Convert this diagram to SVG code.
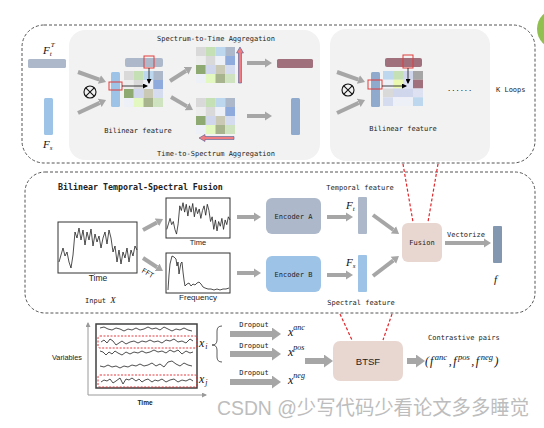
<svg xmlns="http://www.w3.org/2000/svg" xmlns:xlink="http://www.w3.org/1999/xlink" width="544" height="428" viewBox="0 0 544 428">
<style>
.dash{fill:none;stroke:#555;stroke-width:1;stroke-dasharray:3 2}
.panel{fill:#f2f2f2}
.mono{font-family:"DejaVu Sans Mono","Liberation Mono",monospace;font-size:7px;fill:#222}
.sans{font-family:"Liberation Sans",Arial,sans-serif;fill:#222}
.math{font-family:"Liberation Serif","Times New Roman",serif;font-style:italic;fill:#111}
.ga{stroke:#a6a6a6;stroke-width:4;fill:none;marker-end:url(#ga)}
.gb{stroke:#a6a6a6;stroke-width:6;fill:none;marker-end:url(#gb)}
.red{fill:none;stroke:#e03c3c;stroke-width:1}
.rdash{stroke:#e0262b;stroke-width:1.2;stroke-dasharray:3 2;fill:none}
.ts{fill:none;stroke:#222;stroke-width:0.8}
.box{fill:#fff;stroke:#333;stroke-width:1}
.bk{stroke:#111;stroke-width:0.8;fill:none;marker-end:url(#bk)}
.rarrow{fill:#f07c82;stroke:#4a5f9a;stroke-width:0.6}
</style>
<defs>
<marker id="ga" markerUnits="userSpaceOnUse" markerWidth="8" markerHeight="10" refX="0" refY="5" orient="auto"><path d="M0,0.5 L7,5 L0,9.5 z" fill="#a6a6a6"/></marker>
<marker id="gb" markerUnits="userSpaceOnUse" markerWidth="10" markerHeight="13" refX="0" refY="6.5" orient="auto"><path d="M0,0 L9,6.5 L0,13 z" fill="#a6a6a6"/></marker>
<marker id="bk" markerUnits="userSpaceOnUse" markerWidth="5" markerHeight="5" refX="4" refY="2.5" orient="auto"><path d="M0,0 L5,2.5 L0,5 z" fill="#000"/></marker>
<marker id="ax" markerUnits="userSpaceOnUse" markerWidth="5" markerHeight="5" refX="4" refY="2.5" orient="auto"><path d="M0,0 L5,2.5 L0,5 z" fill="#9a9a9a"/></marker>
<g id="m1">
<rect x="0" y="0" width="9.75" height="9" fill="#d9d9d9"/><rect x="9.75" y="0" width="9.75" height="9" fill="#c5e0b4"/><rect x="19.5" y="0" width="9.75" height="9" fill="#bdd7ee"/><rect x="29.25" y="0" width="9.75" height="9" fill="#adb9ca"/>
<rect x="0" y="9" width="9.75" height="9" fill="#ededed"/><rect x="9.75" y="9" width="9.75" height="9" fill="#d9d9d9"/><rect x="19.5" y="9" width="9.75" height="9" fill="#eef0f8"/><rect x="29.25" y="9" width="9.75" height="9" fill="#8faadc"/>
<rect x="0" y="18" width="9.75" height="9" fill="#8eaa72"/><rect x="9.75" y="18" width="9.75" height="9" fill="#d0d6ec"/><rect x="19.5" y="18" width="9.75" height="9" fill="#c9c9b5"/><rect x="29.25" y="18" width="9.75" height="9" fill="#d6dcf0"/>
<rect x="0" y="27" width="9.75" height="9" fill="#eef0f8"/><rect x="9.75" y="27" width="9.75" height="9" fill="#e2f8c0"/><rect x="19.5" y="27" width="9.75" height="9" fill="#a8b48e"/><rect x="29.25" y="27" width="9.75" height="9" fill="#cfe3c0"/>
</g>
<polyline id="ts" class="ts" vector-effect="non-scaling-stroke" points="59,262 61,255 63,248 65,256 67,252 69,262 71,268 73,255 75,232 77,238 79,228 81,240 83,230 85,245 87,232 89,240 91,229 93,246 95,234 97,242 99,236 101,248 103,238 105,232 107,244 109,230 111,238 113,252 115,246 117,262 119,250 121,264 123,252 125,258 127,248 129,262 131,250 133,256 135,246 137,250"/>
</defs>

<rect width="544" height="428" fill="#fff"/>
<circle cx="557" cy="29" r="20" fill="#92c050"/>

<!-- containers -->
<g id="loop-box">
<rect class="dash" x="22" y="25" width="513" height="138" rx="22"/>
<rect class="panel" x="69" y="30" width="251" height="130" rx="16"/>
<rect class="panel" x="330" y="29" width="160" height="132" rx="16"/>
</g>
<g id="fusion-box">
<rect class="dash" x="25" y="172" width="510" height="141" rx="20"/>
<text class="mono" x="58" y="190" style="font-size:8.3px;font-weight:bold">Bilinear Temporal-Spectral Fusion</text>
</g>

<!-- top section nodes -->
<g id="Ft-T">
<rect x="28" y="59" width="38" height="9" rx="1.5" fill="#adb9ca"/>
<text class="math" x="43" y="54" font-size="11">F<tspan font-size="7" dy="2">t</tspan><tspan font-size="7" dx="-1" dy="-9">T</tspan></text>
</g>
<g id="Fs-top">
<rect x="44" y="98" width="9" height="37" rx="1.5" fill="#9dc3e6"/>
<text class="math" x="43" y="148" font-size="11">F<tspan font-size="7" dy="2">s</tspan></text>
</g>
<g id="otimes1">
<circle cx="90" cy="92" r="6" fill="none" stroke="#111" stroke-width="1.1"/>
<path d="M85.8,87.8 L94.2,96.2 M94.2,87.8 L85.8,96.2" stroke="#111" stroke-width="1.1"/>
</g>
<g id="bilinear1">
<rect x="111" y="72" width="9" height="35" rx="1.5" fill="#9dc3e6"/>
<rect x="125" y="58" width="38" height="9" rx="2" fill="#adb9ca"/>
<use xlink:href="#m1" x="124" y="71"/>
<rect class="red" x="144" y="56" width="10" height="12"/>
<rect class="red" x="109" y="82" width="13" height="8"/>
<path class="bk" d="M122,86 L147,86"/>
<path class="bk" d="M149,68 L149,83"/>
<text class="mono" x="138" y="133" text-anchor="middle">Bilinear feature</text>
</g>
<g id="s2t">
<text class="mono" x="216" y="41" text-anchor="middle">Spectrum-to-Time Aggregation</text>
<use xlink:href="#m1" x="196" y="47"/>
<polygon class="rarrow" points="238.5,83 241.5,83 241.5,53 243.5,53 240,47 236.5,53 238.5,53"/>
<rect x="277" y="59" width="36" height="9" rx="1.5" fill="#a0707c"/>
</g>
<g id="t2s">
<use xlink:href="#m1" x="196" y="98"/>
<polygon class="rarrow" points="234,136.5 234,139.5 205,139.5 205,141.5 199,138 205,134.5 205,136.5"/>
<rect x="291" y="98" width="9" height="37" rx="1.5" fill="#8faacc"/>
<text class="mono" x="216" y="156" text-anchor="middle">Time-to-Spectrum Aggregation</text>
</g>
<g id="otimes2">
<circle cx="348" cy="90" r="6" fill="none" stroke="#111" stroke-width="1.1"/>
<path d="M343.8,85.8 L352.2,94.2 M352.2,85.8 L343.8,94.2" stroke="#111" stroke-width="1.1"/>
</g>
<g id="bilinear2">
<rect x="371" y="72" width="9" height="35" rx="1.5" fill="#8faacc"/>
<rect x="385" y="58" width="37" height="9" rx="2" fill="#a0707c"/>
<g>
<rect x="383" y="71" width="10" height="8.75" fill="#bdd7ee"/><rect x="393" y="71" width="10" height="8.75" fill="#c5e0b4"/><rect x="403" y="71" width="10" height="8.75" fill="#d0d6ec"/><rect x="413" y="71" width="10" height="8.75" fill="#a6a6a6"/>
<rect x="383" y="79.75" width="10" height="8.75" fill="#eef0f8"/><rect x="393" y="79.75" width="10" height="8.75" fill="#eaf8b0"/><rect x="403" y="79.75" width="10" height="8.75" fill="#dde1f1"/><rect x="413" y="79.75" width="10" height="8.75" fill="#a0707c"/>
<rect x="383" y="88.5" width="10" height="8.75" fill="#d9d9d9"/><rect x="393" y="88.5" width="10" height="8.75" fill="#d0d6ec"/><rect x="403" y="88.5" width="10" height="8.75" fill="#d0d6ec"/><rect x="413" y="88.5" width="10" height="8.75" fill="#dde1f1"/>
<rect x="383" y="97.25" width="10" height="8.75" fill="#d6dcf0"/><rect x="393" y="97.25" width="10" height="8.75" fill="#eef0f8"/><rect x="403" y="97.25" width="10" height="8.75" fill="#eef0f8"/><rect x="413" y="97.25" width="10" height="8.75" fill="#bdd7ee"/>
</g>
<rect class="red" x="403" y="55" width="10" height="13"/>
<rect class="red" x="368" y="80" width="14" height="9"/>
<path class="bk" d="M382,86 L406,86"/>
<path class="bk" d="M408,68 L408,83"/>
<text class="mono" x="403" y="131" text-anchor="middle">Bilinear feature</text>
</g>
<g id="kloops">
<text class="mono" x="447" y="91">......</text>
<text class="mono" x="496" y="92">K Loops</text>
</g>

<!-- middle section nodes -->
<g id="input">
<rect class="box" x="58" y="222" width="79" height="51"/>
<use xlink:href="#ts"/>
<text class="sans" x="98" y="281" font-size="8.5" text-anchor="middle">Time</text>
<text class="mono" x="141" y="272" font-size="5.5" transform="rotate(30 141 272)">FFT</text>
<text class="mono" x="85" y="303">Input <tspan class="math" font-size="9">X</tspan></text>
</g>
<g id="time-view">
<rect class="box" x="166" y="198" width="64" height="40"/>
<use xlink:href="#ts" transform="translate(166,198) scale(0.81,0.784) translate(-58,-222)"/>
<text class="sans" x="198" y="245" font-size="7.5" text-anchor="middle">Time</text>
</g>
<g id="freq-view">
<rect class="box" x="166" y="253" width="64" height="40"/>
<polyline class="ts" points="168,290 169,275 170,264 172,256 174,257 176,259 177,266 178,262 179,274 180,268 181,263 182,262 183,272 184,280 185,286 187,284 189,283 191,286 193,284 195,285 197,283 199,282 201,284 203,287 205,288 208,289 211,289 214,290 217,289 220,290 223,289 226,289 229,288"/>
<text class="sans" x="198" y="300" font-size="8" text-anchor="middle">Frequency</text>
</g>
<g id="encoderA">
<rect x="266" y="198" width="55" height="36" rx="6" fill="#adb9ca"/>
<text class="mono" x="293.5" y="219" text-anchor="middle">Encoder A</text>
</g>
<g id="encoderB">
<rect x="266" y="256" width="55" height="36" rx="6" fill="#9dc3e6"/>
<text class="mono" x="293.5" y="277" text-anchor="middle">Encoder B</text>
</g>
<g id="Ft">
<text class="mono" x="360" y="190" text-anchor="middle">Temporal feature</text>
<rect x="358" y="197" width="9" height="37" rx="1" fill="#adb9ca"/>
<text class="math" x="346" y="209" font-size="11">F<tspan font-size="7" dy="2">t</tspan></text>
</g>
<g id="Fs">
<rect x="358" y="255" width="9" height="37" rx="1" fill="#9dc3e6"/>
<text class="math" x="346" y="266" font-size="11">F<tspan font-size="7" dy="2">s</tspan></text>
<text class="mono" x="361" y="305" text-anchor="middle">Spectral feature</text>
</g>
<g id="fusion">
<rect x="402" y="223" width="40" height="39" rx="6" fill="#e8d6d0"/>
<text class="mono" x="422" y="245" text-anchor="middle">Fusion</text>
</g>
<g id="f-out">
<text class="mono" x="447" y="237">Vectorize</text>
<rect x="493" y="226" width="9" height="37" rx="1" fill="#8497b0"/>
<text class="math" x="494" y="283" font-size="11">f</text>
</g>

<!-- bottom section nodes -->
<g id="multivariate">
<path d="M88,395 L88,323" stroke="#9a9a9a" stroke-width="1" marker-end="url(#ax)"/>
<path d="M88,395 L206,395" stroke="#9a9a9a" stroke-width="1" marker-end="url(#ax)"/>
<rect x="96" y="324" width="101" height="64" fill="#fff" stroke="#404040" stroke-width="1.5"/>
<polyline class="ts" points="100,328 104,327 108,329 112,330 116,328 120,329 124,331 128,329 132,330 136,328 140,330 144,329 148,327 152,329 156,328 160,330 164,327 168,329 172,331 176,329 180,330 184,328 188,330 192,331"/>
<polyline class="ts" points="101,342 104,340 107,343 110,339 113,341 116,345 119,343 122,341 126,344 130,342 134,341 138,343 142,341 146,342 150,340 154,342 158,341 162,343 166,340 170,341 174,339 178,342 182,341 186,343 190,339 193,341"/>
<polyline class="ts" points="100,351 103,352 106,355 109,352 112,354 115,351 118,353 122,355 126,352 130,354 134,352 138,353 142,351 146,353 150,352 154,350 158,352 162,351 166,353 170,350 174,352 178,350 182,354 186,351 190,353 193,352"/>
<polyline class="ts" points="100,366 104,367 108,365 112,367 116,366 120,368 124,366 128,367 132,365 136,366 140,364 144,366 148,365 152,363 156,366 160,364 164,367 168,362 172,361 176,364 180,366 184,363 188,365 192,366"/>
<polyline class="ts" points="101,382 104,380 107,381 110,379 113,383 116,381 120,378 123,384 126,379 129,380 132,378 136,381 139,379 142,382 145,380 148,379 152,382 155,380 158,381 162,379 166,382 170,380 174,379 178,382 182,380 186,381 190,379 193,381"/>
<rect x="98" y="336" width="99" height="12" rx="2" fill="none" stroke="#e0262b" stroke-width="0.9" stroke-dasharray="2 1.5"/>
<rect x="98" y="375" width="99" height="12" rx="2" fill="none" stroke="#e0262b" stroke-width="0.9" stroke-dasharray="2 1.5"/>
<text class="sans" x="67" y="360" font-size="7.3" text-anchor="middle">Variables</text>
<text class="sans" x="145" y="405" font-size="6.5" font-weight="bold" text-anchor="middle">Time</text>
<text class="math" x="199" y="347" font-size="12">x<tspan font-size="8" dy="2" dx="1">i</tspan></text>
<text class="math" x="199" y="383" font-size="12">x<tspan font-size="8" dy="2" dx="1">j</tspan></text>
<path d="M222,326 Q217,326 217,331 L217,340 Q217,345 212,345 Q217,345 217,350 L217,357 Q217,362 222,362" fill="none" stroke="#333" stroke-width="0.8"/>
</g>
<g id="views">
<text class="mono" x="254" y="327" text-anchor="middle">Dropout</text>
<text class="mono" x="254" y="348" text-anchor="middle">Dropout</text>
<text class="mono" x="254" y="375" text-anchor="middle">Dropout</text>
<text class="math" x="288" y="336" font-size="12">x<tspan font-size="8" dy="-6">anc</tspan></text>
<text class="math" x="288" y="356" font-size="12">x<tspan font-size="8" dy="-6">pos</tspan></text>
<text class="math" x="288" y="384" font-size="12">x<tspan font-size="8" dy="-6">neg</tspan></text>
</g>
<g id="btsf">
<rect x="333" y="341" width="70" height="40" rx="7" fill="#e8d6d0"/>
<text class="sans" x="368" y="365" font-size="9.5" text-anchor="middle">BTSF</text>
</g>
<g id="pairs">
<text class="mono" x="428" y="340">Contrastive pairs</text>
<text class="math" x="425" y="365" font-size="12">(<tspan dx="1">f</tspan><tspan font-size="8.5" dx="1.5" dy="-5">anc</tspan><tspan dx="1.5" dy="5">,</tspan><tspan dx="1.5">f</tspan><tspan font-size="8.5" dx="1.5" dy="-5">pos</tspan><tspan dx="1.5" dy="5">,</tspan><tspan dx="1.5">f</tspan><tspan font-size="8.5" dx="1.5" dy="-5">neg</tspan><tspan dx="1.5" dy="5">)</tspan></text>
</g>

<!-- connectors -->
<g id="connectors">
<line class="ga" x1="78" y1="72" x2="99.4" y2="79.6"/>
<line class="ga" x1="78" y1="113" x2="99.7" y2="102.9"/>
<line class="ga" x1="170" y1="81" x2="186.1" y2="70.8"/>
<line class="ga" x1="171" y1="97" x2="187" y2="106.4"/>
<line class="ga" x1="247" y1="63" x2="265" y2="63"/>
<line class="ga" x1="247" y1="116" x2="265" y2="116"/>
<line class="ga" x1="337" y1="72" x2="358.4" y2="79.6"/>
<line class="ga" x1="337" y1="113" x2="358.7" y2="102.9"/>
<line class="ga" x1="143" y1="230" x2="156.9" y2="222.4"/>
<line class="ga" x1="143" y1="258" x2="157.1" y2="267.2"/>
<line class="ga" x1="237" y1="217" x2="254" y2="217"/>
<line class="ga" x1="237" y1="273" x2="254" y2="273"/>
<line class="ga" x1="327" y1="217" x2="346" y2="217"/>
<line class="ga" x1="327" y1="275" x2="346" y2="275"/>
<line class="ga" x1="373" y1="215" x2="393.4" y2="229.9"/>
<line class="ga" x1="373" y1="276" x2="393.4" y2="260.3"/>
<line class="ga" x1="445" y1="243" x2="484" y2="243"/>
<line class="gb" x1="230" y1="334" x2="272" y2="334"/>
<line class="gb" x1="230" y1="354" x2="272" y2="354"/>
<line class="gb" x1="230" y1="382" x2="272" y2="382"/>
<line class="gb" x1="305" y1="361" x2="324" y2="361"/>
<line class="gb" x1="407" y1="361" x2="416" y2="361"/>
<line class="rdash" x1="403" y1="164" x2="413" y2="222"/>
<line class="rdash" x1="438" y1="164" x2="428" y2="222"/>
<line class="rdash" x1="340" y1="314" x2="352" y2="340"/>
<line class="rdash" x1="392" y1="314" x2="383" y2="340"/>
</g>

<text x="217" y="415" font-family="'Liberation Sans','Noto Sans CJK SC',sans-serif" font-size="20" fill="#bdbdbd" textLength="312" lengthAdjust="spacingAndGlyphs">CSDN @少写代码少看论文多多睡觉</text>
</svg>
